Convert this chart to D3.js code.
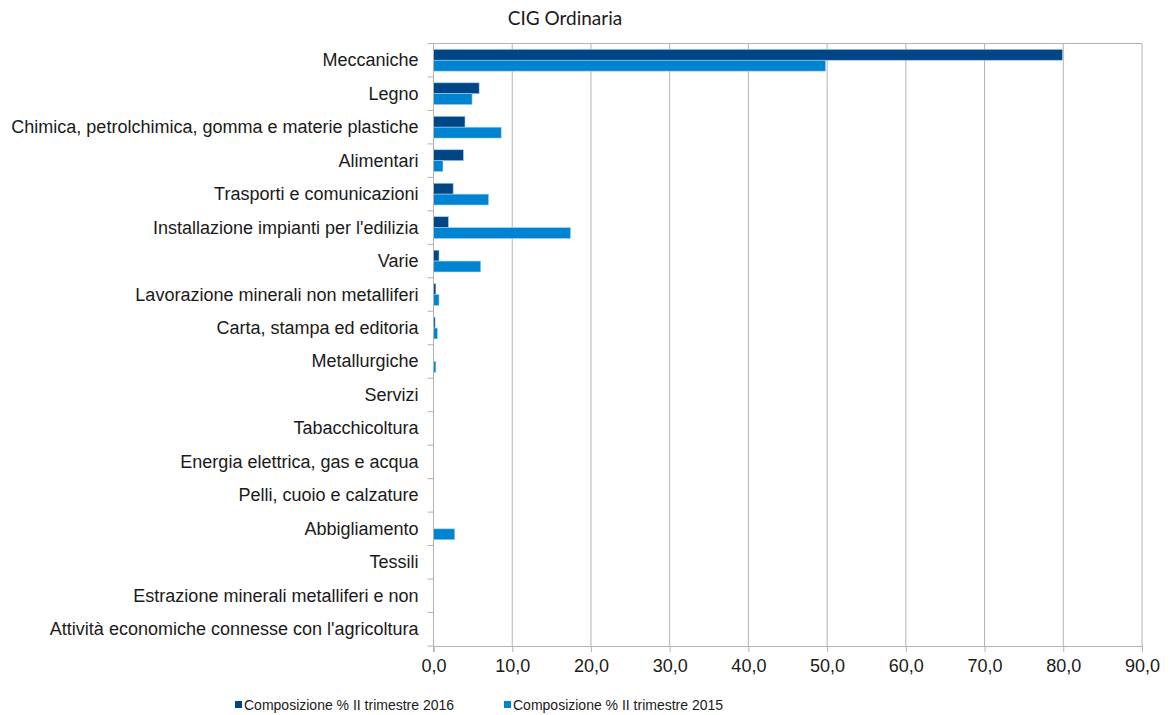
<!DOCTYPE html>
<html>
<head>
<meta charset="utf-8">
<script src="https://cdn.jsdelivr.net/npm/d3@7"></script>
<style>
  body { margin: 0; background: #fff; }
  text { fill: #1a1a1a; }
</style>
</head>
<body>
<div id="chart"></div>
<script>
const categories = ['Meccaniche', 'Legno', 'Chimica, petrolchimica, gomma e materie plastiche', 'Alimentari',
  'Trasporti e comunicazioni', "Installazione impianti per l'edilizia", 'Varie',
  'Lavorazione minerali non metalliferi', 'Carta, stampa ed editoria', 'Metallurgiche', 'Servizi',
  'Tabacchicoltura', 'Energia elettrica, gas e acqua', 'Pelli, cuoio e calzature', 'Abbigliamento',
  'Tessili', 'Estrazione minerali metalliferi e non', "Attività economiche connesse con l'agricoltura"];
const series2016 = [79.9, 5.8, 4.0, 3.8, 2.5, 1.9, 0.7, 0.3, 0.2, 0.0, 0.0, 0.0, 0.0, 0.0, 0.0, 0.0, 0.0, 0.0];
const series2015 = [49.8, 4.9, 8.6, 1.2, 7.0, 17.4, 6.0, 0.7, 0.5, 0.3, 0.0, 0.0, 0.0, 0.0, 2.7, 0.0, 0.0, 0.0];
const seriesNames = ['Composizione % II trimestre 2016', 'Composizione % II trimestre 2015'];
const xTicks = [0, 10, 20, 30, 40, 50, 60, 70, 80, 90];

const W = 1170, H = 715;
const margin = { top: 43.5, right: 28, bottom: 69, left: 433.5 };
const colors = ['#004586', '#0084d1'];

const svg = d3.select('#chart').append('svg').attr('width', W).attr('height', H);

const x = d3.scaleLinear().domain([0, 90]).range([margin.left, W - margin.right]);
const y = d3.scaleBand().domain(categories).range([margin.top, H - margin.bottom]).paddingInner(0.35).paddingOuter(0.175);
const sub = d3.scaleBand().domain([0, 1]).range([0, y.bandwidth()]);

// grid
svg.append('g').selectAll('line').data(xTicks).join('line')
  .attr('x1', d => x(d)).attr('x2', d => x(d))
  .attr('y1', margin.top).attr('y2', H - margin.bottom)
  .attr('stroke', '#b3b3b3').attr('stroke-width', 1);
svg.append('line').attr('x1', margin.left).attr('x2', x(90))
  .attr('y1', margin.top).attr('y2', margin.top).attr('stroke', '#b3b3b3');

// bars
const data = categories.map((c, i) => ({ c, v: [series2016[i], series2015[i]] }));
const g = svg.append('g').selectAll('g').data(data).join('g')
  .attr('transform', d => `translate(0,${y(d.c)})`);
g.selectAll('rect').data(d => d.v.map((v, k) => ({ v, k }))).join('rect')
  .filter(d => d.v > 0)
  .attr('x', x(0)).attr('y', d => sub(d.k))
  .attr('width', d => x(d.v) - x(0)).attr('height', sub.bandwidth())
  .attr('fill', d => colors[d.k])
  .attr('stroke', '#9fd0ee').attr('stroke-width', 0.6);

// y axis
const yBand = d3.scaleBand().domain(categories).range([margin.top, H - margin.bottom]);
const yAxis = svg.append('g').attr('transform', `translate(${margin.left},0)`);
yAxis.append('line').attr('x1', 0).attr('x2', 0).attr('y1', margin.top).attr('y2', H - margin.bottom + 6)
  .attr('stroke', '#b3b3b3');
yAxis.selectAll('.tk').data(categories.concat(['end'])).join('line')
  .attr('x1', -6).attr('x2', 0)
  .attr('y1', (d, i) => i < categories.length ? yBand(d) : H - margin.bottom)
  .attr('y2', (d, i) => i < categories.length ? yBand(d) : H - margin.bottom)
  .attr('stroke', '#b3b3b3');
yAxis.selectAll('text').data(categories).join('text')
  .attr('x', -15).attr('y', d => yBand(d) + yBand.bandwidth() / 2)
  .attr('text-anchor', 'end').attr('dominant-baseline', 'central')
  .style('font-family', 'Liberation Sans').style('font-size', '18px')
  .text(d => d);

// x axis
const fmt = d => d3.format('.1f')(d).replace('.', ',');
const xAxis = d3.axisBottom(x).tickValues(xTicks).tickSize(6).tickFormat(fmt);
const xg = svg.append('g').attr('transform', `translate(0,${H - margin.bottom})`).call(xAxis);
xg.select('.domain').attr('stroke', '#b3b3b3');
xg.selectAll('.tick line').attr('stroke', '#b3b3b3');
xg.selectAll('.tick text').attr('y', 0).attr('dy', 0).attr('transform', 'translate(0,26)')
  .style('font-family', 'Liberation Sans').style('font-size', '18px').attr('fill', '#1a1a1a');

// title
svg.append('text').attr('x', 565).attr('y', 25).attr('text-anchor', 'middle')
  .style('font-family', 'Lato').style('font-size', '19px').text('CIG Ordinaria');

// legend
const legX = [235, 504];
const leg = svg.append('g').selectAll('g').data(seriesNames).join('g')
  .attr('transform', (d, i) => `translate(${legX[i]},705)`);
leg.append('rect').attr('x', 0).attr('y', -4).attr('width', 7).attr('height', 7).attr('fill', (d, i) => colors[i]);
leg.append('text').attr('x', 9).attr('y', 0).attr('dominant-baseline', 'central')
  .style('font-family', 'Liberation Sans').style('font-size', '14px').text(d => d);
</script>
</body>
</html>
